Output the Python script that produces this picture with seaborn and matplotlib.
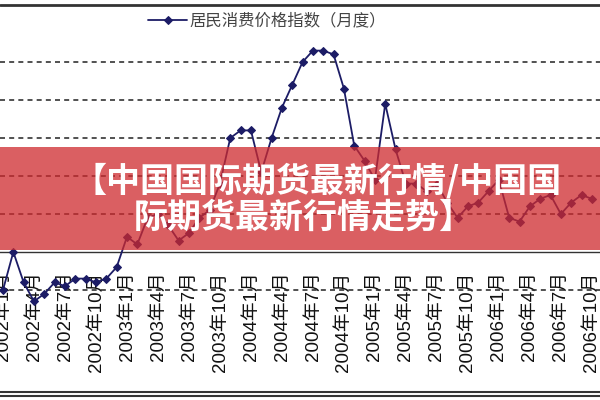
import matplotlib
matplotlib.use("Agg")
import matplotlib.pyplot as plt
import seaborn as sns
import pandas as pd
from matplotlib.lines import Line2D
from matplotlib.patches import Rectangle

# ---- data ----
cpi_2002 = [-1.0, 0.0, -0.8, -1.3, -1.1, -0.8, -0.9, -0.7, -0.7, -0.8, -0.7, -0.4]
cpi_2003 = [0.4, 0.2, 0.9, 1.0, 0.7, 0.3, 0.5, 0.9, 1.1, 1.8, 3.0, 3.2]
cpi_2004 = [3.2, 2.1, 3.0, 3.8, 4.4, 5.0, 5.3, 5.3, 5.2, 4.3, 2.8, 2.4]
cpi_2005 = [1.9, 3.9, 2.7, 1.8, 1.8, 1.6, 1.8, 1.3, 0.9, 1.2, 1.3, 1.6]
cpi_2006 = [1.9, 0.9, 0.8, 1.2, 1.4, 1.5, 1.0, 1.3, 1.5, 1.4]
cpi = cpi_2002 + cpi_2003 + cpi_2004 + cpi_2005 + cpi_2006

tick_labels = [
    "2002年1月", "2002年4月", "2002年7月", "2002年10月",
    "2003年1月", "2003年4月", "2003年7月", "2003年10月",
    "2004年1月", "2004年4月", "2004年7月", "2004年10月",
    "2005年1月", "2005年4月", "2005年7月", "2005年10月",
    "2006年1月", "2006年4月", "2006年7月", "2006年10月",
]
series_name = "居民消费价格指数（月度）"
banner_line1 = "【中国国际期货最新行情/中国国"
banner_line2 = "际期货最新行情走势】"
grid_values = [-1, 1, 2, 3, 4, 5]

df = pd.DataFrame({"month": list(range(len(cpi))), "cpi": cpi})

sns.set_style("white")
plt.rcParams["font.family"] = ["Liberation Sans", "Noto Sans CJK SC", "DejaVu Sans"]

fig = plt.figure(figsize=(6, 4), dpi=100)
ax = fig.add_axes([0, 0, 1, 1])

navy = "#1c1c66"
sns.lineplot(data=df, x="month", y="cpi", ax=ax, color=navy, linewidth=1.3,
             marker="D", markersize=4.5, markeredgecolor=navy, markerfacecolor=navy,
             label=series_name, zorder=3)

ax.set_xlim(-0.29, 57.79)
ax.set_ylim(-3.895, 6.632)

for g in grid_values:
    ax.axhline(g, color="#333333", linewidth=1.2, linestyle=(0, (3, 2.5)), zorder=1)

for s in ["left", "right", "top"]:
    ax.spines[s].set_visible(False)
ax.spines["bottom"].set_position(("data", 0))
ax.spines["bottom"].set_color("#333333")
ax.spines["bottom"].set_linewidth(1.0)

ax.set_xticks(list(range(0, len(cpi), 3)))
ax.set_xticklabels(tick_labels, rotation=90, fontsize=13.5, color="#111111",
                   family=["Liberation Sans", "Noto Sans CJK SC"])
ax.tick_params(axis="x", direction="in", length=5, width=1, color="#333333", pad=14)
ax.set_yticks([])
ax.set_xlabel("")
ax.set_ylabel("")

leg = ax.legend(loc="center left", bbox_to_anchor=(148 / 600, 1 - 21 / 400), frameon=False,
                handlelength=2.4, handletextpad=0.1, borderaxespad=0, borderpad=0,
                prop={"family": ["Noto Sans CJK SC"], "size": 11.8})
for t in leg.get_texts():
    t.set_color("#444444")

# frame lines
fig.add_artist(Line2D([0, 1], [1 - 5 / 400] * 2, transform=fig.transFigure, color="#333333", lw=2))
fig.add_artist(Line2D([0, 1], [1 - 392 / 400] * 2, transform=fig.transFigure, color="#333333", lw=1.5))
fig.add_artist(Line2D([0, 1], [1 - 396 / 400] * 2, transform=fig.transFigure, color="#333333", lw=1.5))

# banner overlay
ax.add_patch(Rectangle((0, 1 - 250 / 400), 1, 103 / 400, transform=ax.transAxes,
                       facecolor="#ce2a2e", alpha=0.75, edgecolor="none", zorder=5))
ax.text(317 / 600, 1 - 181 / 400, banner_line1, transform=ax.transAxes, ha="center", va="center",
        color="white", fontsize=24.5, fontweight="heavy", family=["Noto Sans CJK SC"], zorder=6)
ax.text(304 / 600, 1 - 217 / 400, banner_line2, transform=ax.transAxes, ha="center", va="center",
        color="white", fontsize=24.5, fontweight="heavy", family=["Noto Sans CJK SC"], zorder=6)

fig.savefig("out.png", dpi=100)
